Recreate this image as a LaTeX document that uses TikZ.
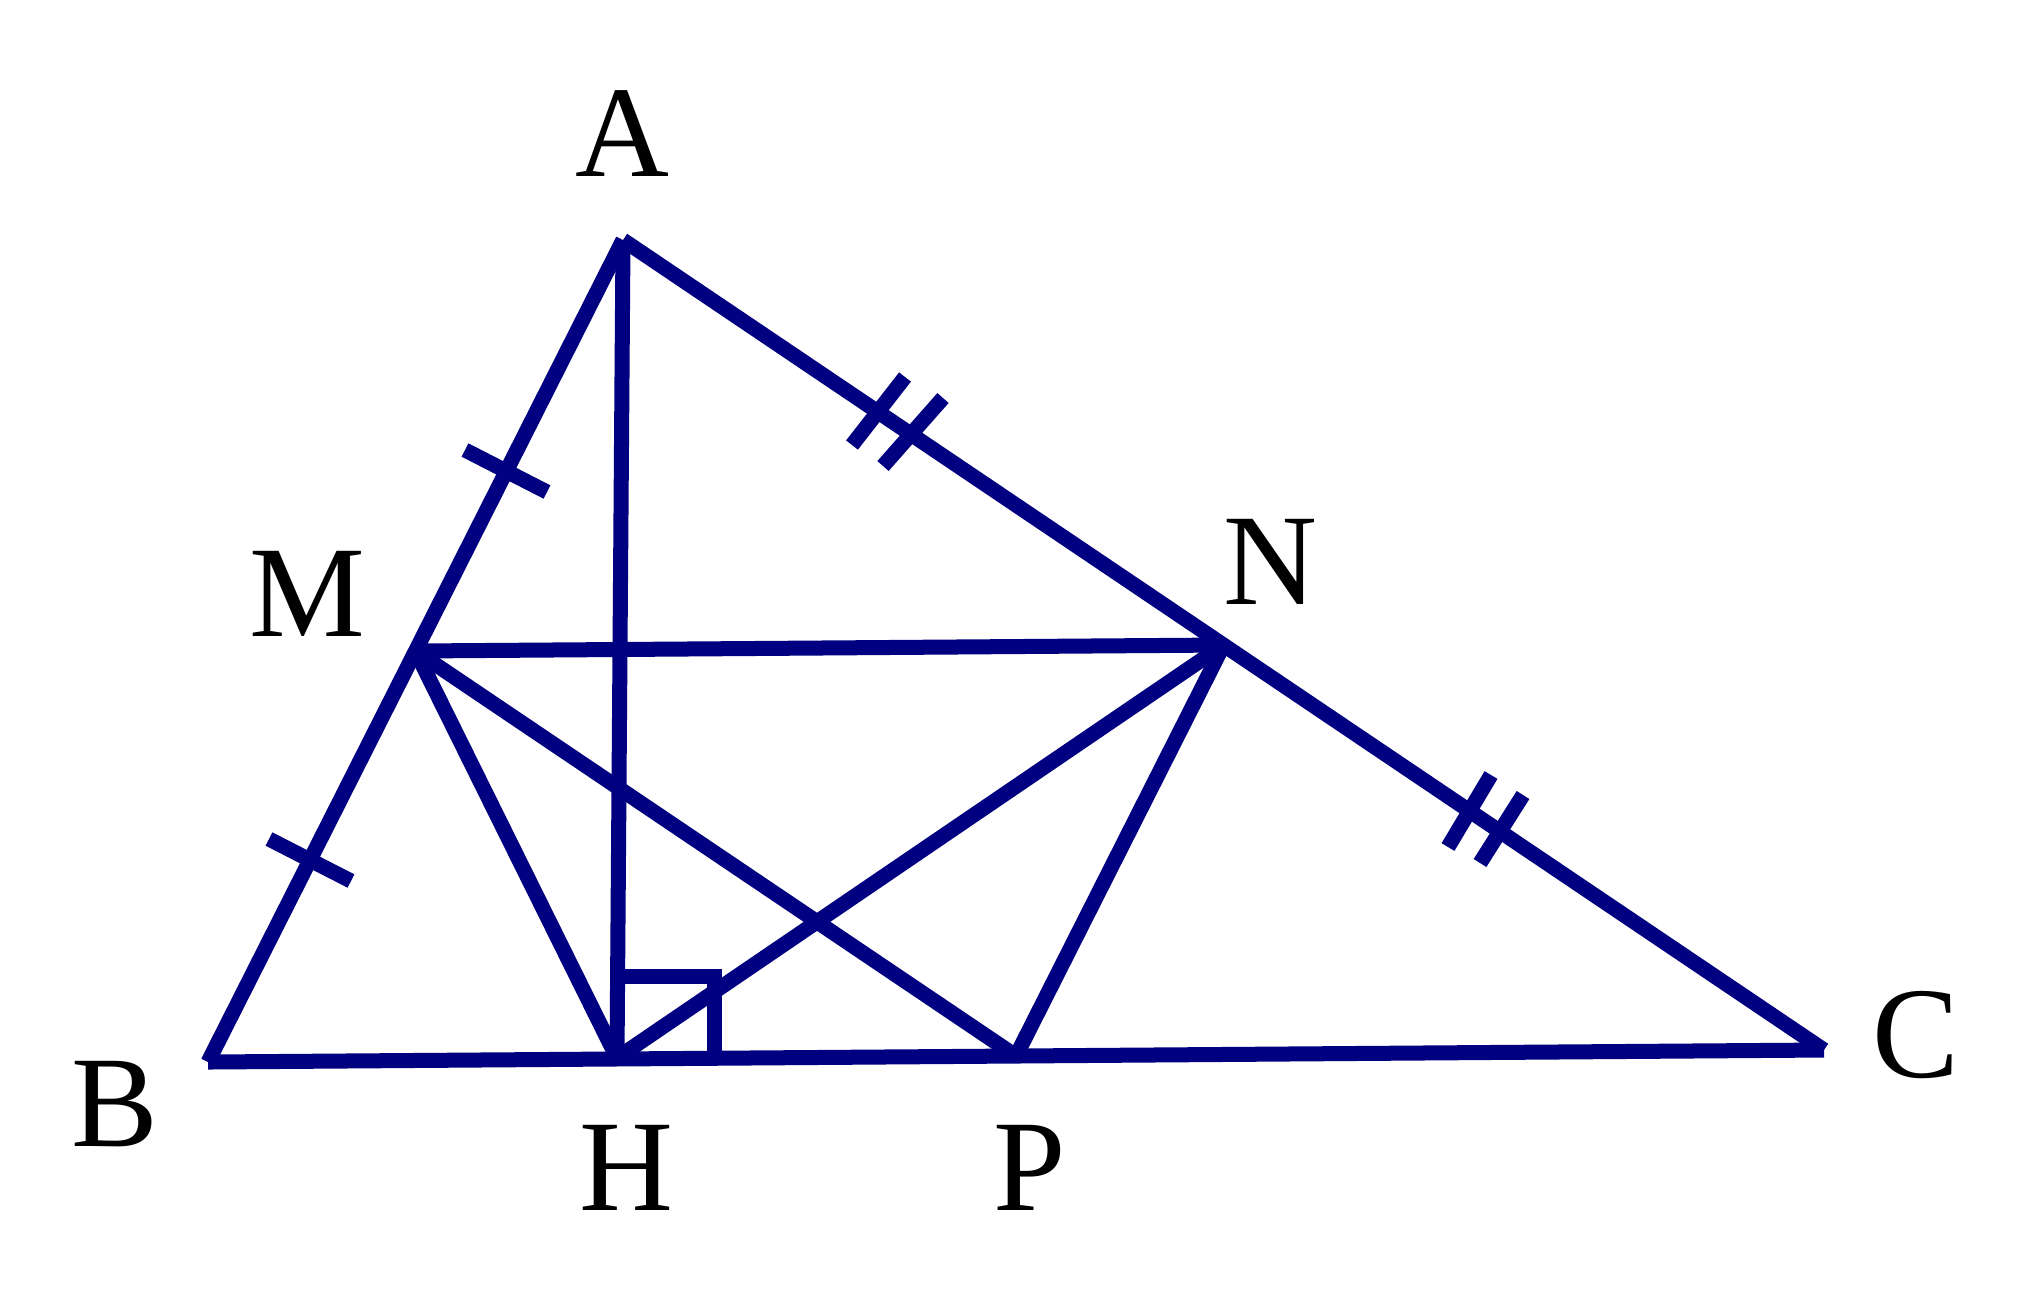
\documentclass[tikz,border=0pt]{standalone}
\usepackage{fontspec}
\setmainfont{Liberation Serif}
\definecolor{geo}{RGB}{0,0,128}
\begin{document}
\begin{tikzpicture}[x=0.01cm,y=-0.01cm,
  seg/.style={draw=geo,line width=1.5mm,line cap=butt},
  lbl/.style={inner sep=0pt,font=\fontsize{37}{40}\selectfont}]
\useasboundingbox (0,0) rectangle (2040,1305);
\coordinate (A) at (623,240);
\coordinate (B) at (208,1062);
\coordinate (C) at (1824,1050);
\coordinate (M) at (415.5,651);
\coordinate (N) at (1223.5,645);
\coordinate (P) at (1016,1056);
\coordinate (H) at (617,1058);
% sides
\draw[seg] (A) -- (B);
\draw[seg] (A) -- (C);
\draw[seg] (B) -- (C);
% inner segments
\draw[seg] (A) -- (H);
\draw[seg] (M) -- (N);
\draw[seg] (M) -- (H);
\draw[seg] (M) -- (P);
\draw[seg] (N) -- (H);
\draw[seg] (N) -- (P);
% right angle mark
\coordinate (R1) at (620,976);
\coordinate (R2) at (714,976);
\coordinate (R3) at (714,1056);
\draw[seg] (R1) -- (R2) -- (R3);
% single ticks on AB
\coordinate (t1a) at (465,450); \coordinate (t1b) at (547,492);
\coordinate (t2a) at (269,839); \coordinate (t2b) at (351,881);
\draw[seg] (t1a) -- (t1b);
\draw[seg] (t2a) -- (t2b);
% double ticks on AC
\coordinate (d1a) at (852,445); \coordinate (d1b) at (905,377);
\coordinate (d2a) at (883,466); \coordinate (d2b) at (943,398);
\coordinate (d3a) at (1448,847); \coordinate (d3b) at (1491,775);
\coordinate (d4a) at (1480,863); \coordinate (d4b) at (1523,795);
\draw[seg] (d1a) -- (d1b);
\draw[seg] (d2a) -- (d2b);
\draw[seg] (d3a) -- (d3b);
\draw[seg] (d4a) -- (d4b);
% labels
\node[lbl] (lA) at (622,134) {A};
\node[lbl] (lM) at (307,594) {M};
\node[lbl] (lN) at (1270,562) {N};
\node[lbl] (lB) at (115,1104) {B};
\node[lbl] (lH) at (626,1168) {H};
\node[lbl] (lP) at (1030,1168) {P};
\node[lbl] (lC) at (1916,1035) {C};
\end{tikzpicture}
\end{document}
